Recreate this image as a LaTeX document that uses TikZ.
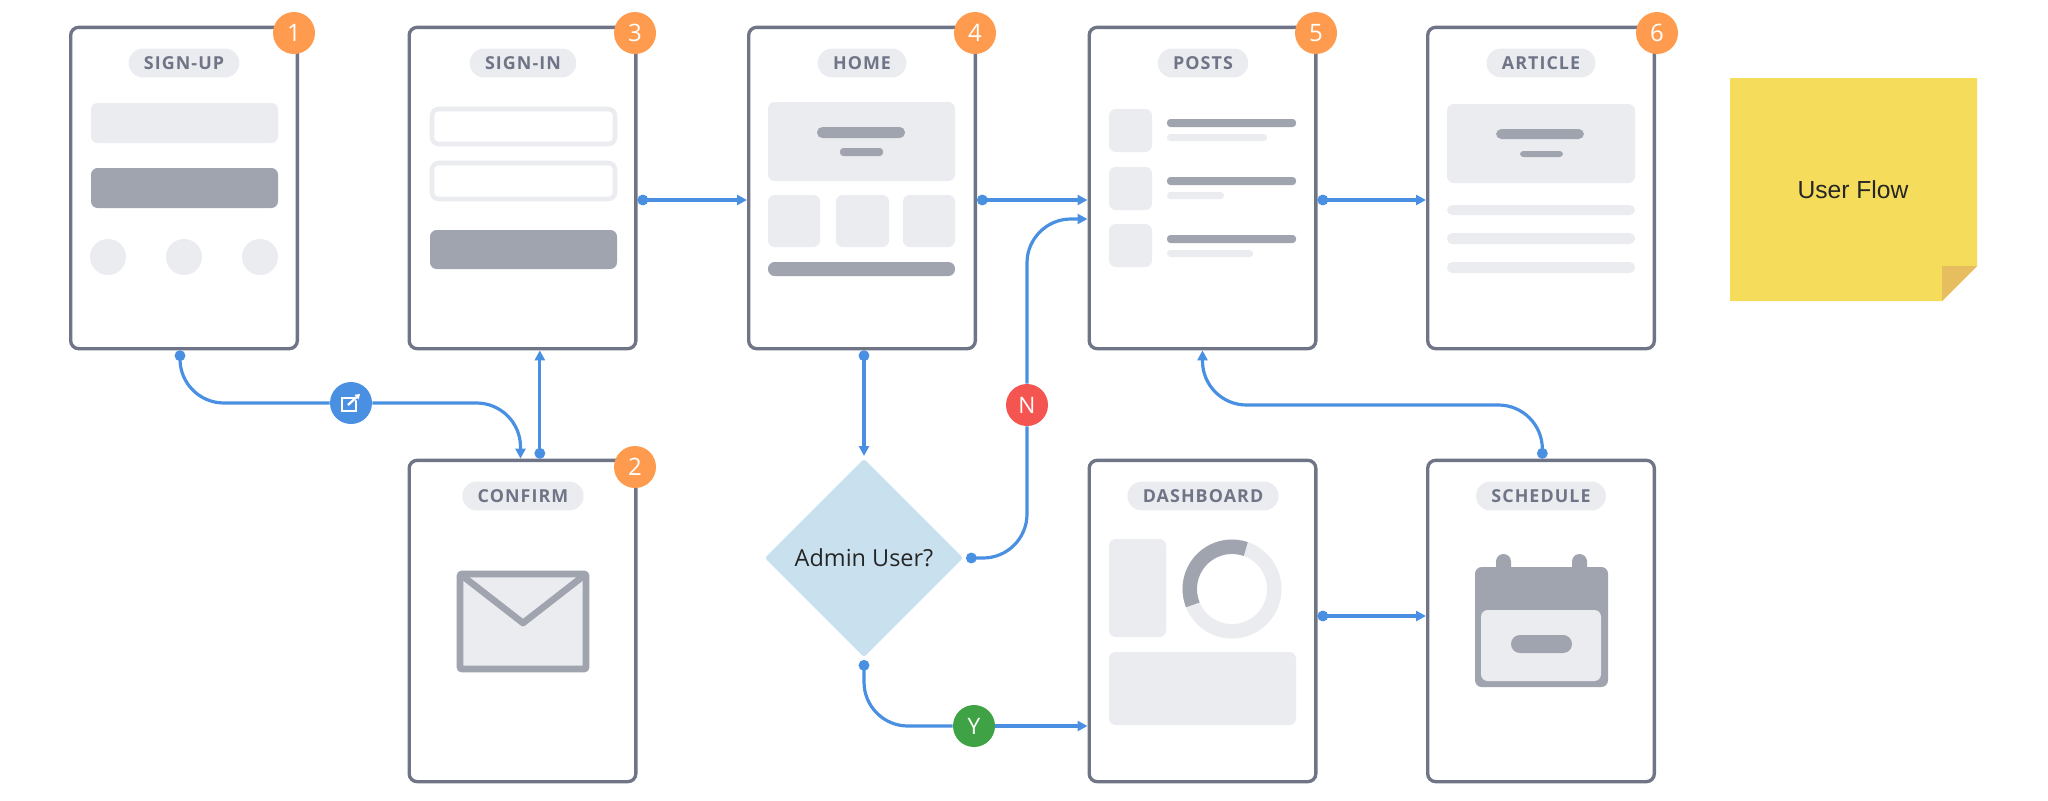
\documentclass[tikz,border=0pt]{standalone}
\usepackage{fontspec}
\usepackage{tikz}
\usetikzlibrary{positioning,arrows.meta,shapes.geometric}
\setmainfont{Open Sans}
\newfontfamily\cardfont[LetterSpace=6]{Open Sans}
\newfontfamily\notefont{Liberation Sans}
\definecolor{framegrey}{HTML}{6F7486}
\definecolor{lightgrey}{HTML}{EBECF0}
\definecolor{midgrey}{HTML}{A0A4AF}
\definecolor{flowblue}{HTML}{4A90E2}
\definecolor{numorange}{HTML}{FF9B4E}
\definecolor{noflag}{HTML}{F55550}
\definecolor{yesflag}{HTML}{3FA346}
\definecolor{askblue}{HTML}{C9E1EE}
\definecolor{noteyellow}{HTML}{F5DC5A}
\definecolor{notefold}{HTML}{E6BE5F}
\tikzset{
  cardbox/.style={draw=framegrey, fill=white, line width=2.5pt, rounded corners=6pt,
    minimum width=170pt, minimum height=241pt, inner sep=0},
  cardtag/.style={fill=lightgrey, rounded corners=10.8pt, minimum height=21.6pt, inner ysep=0, inner xsep=11.5pt,
    text=framegrey, font=\cardfont\bfseries\fontsize{13.4}{14}\selectfont},
  numdot/.style={circle, fill=numorange, minimum size=31.5pt, inner sep=0, text=white,
    font=\fontsize{18}{18}\selectfont},
  flagdot/.style={circle, minimum size=31.5pt, inner sep=0, text=white,
    font=\fontsize{17}{17}\selectfont},
  askbox/.style={diamond, fill=askblue, minimum width=150pt, minimum height=150pt, inner sep=0,
    outer sep=1.5pt, rounded corners=2pt, font=\fontsize{17.6}{19}\selectfont, text=black!85},
  lightbar/.style={fill=lightgrey, rounded corners=5pt},
  darkbar/.style={fill=midgrey, rounded corners=5pt},
  thinlight/.style={fill=lightgrey, rounded corners=2.5pt},
  thindark/.style={fill=midgrey, rounded corners=2.5pt},
  flowto/.style={draw=flowblue, line width=2.4pt, -{Triangle[length=7.5pt,width=7.5pt]}},
  flowdot/.style={draw=flowblue, line width=2.4pt, {Circle[length=8pt,width=8pt]}-{Triangle[length=7.5pt,width=7.5pt]}},
  flowstart/.style={draw=flowblue, line width=2.4pt, {Circle[length=8pt,width=8pt]}-},
  bent/.style={rounded corners=33pt}
}
\begin{document}
\begin{tikzpicture}[x=0.75pt, y=-0.75pt]
  \useasboundingbox (0,0) rectangle (2048,800);

  \node[cardbox] (signup) at (184,188) {};
  \node[cardbox] (signin) at (522.5,188) {};
  \node[cardbox] (home) at (862,188) {};
  \node[cardbox] (posts) at (1202.5,188) {};
  \node[cardbox] (article) at (1541,188) {};
  \node[cardbox] (confirm) at (522.5,621) {};
  \node[cardbox] (dashboard) at (1202.5,621) {};
  \node[cardbox] (schedule) at (1541,621) {};

  \node[cardtag] (signuptag) at (184,63) {SIGN-UP};
  \node[cardtag] (signintag) at (523,63) {SIGN-IN};
  \node[cardtag] (hometag) at (862,63) {HOME};
  \node[cardtag] (poststag) at (1203,63) {POSTS};
  \node[cardtag] (articletag) at (1541,63) {ARTICLE};
  \node[cardtag] (confirmtag) at (523,496) {CONFIRM};
  \node[cardtag] (dashboardtag) at (1203,496) {DASHBOARD};
  \node[cardtag] (scheduletag) at (1541,496) {SCHEDULE};

  \node[numdot] (numa) at (294,33) {1};
  \node[numdot] (numb) at (635,467) {2};
  \node[numdot] (numc) at (635,33) {3};
  \node[numdot] (numd) at (975,33) {4};
  \node[numdot] (nume) at (1316,33) {5};
  \node[numdot] (numf) at (1657,33) {6};

  \fill[lightbar] (91,103) rectangle (278,143);
  \fill[darkbar] (91,168) rectangle (278,208);
  \fill[lightgrey] (108,257) circle (18) (184,257) circle (18) (260,257) circle (18);

  \draw[draw=lightgrey, line width=3.4pt, rounded corners=5pt] (432,109) rectangle (615,144);
  \draw[draw=lightgrey, line width=3.4pt, rounded corners=5pt] (432,163) rectangle (615,199);
  \fill[darkbar] (430,230) rectangle (617,269);

  \fill[lightbar] (768,102) rectangle (955,181);
  \fill[thindark, rounded corners=4pt] (817,127) rectangle (905,138);
  \fill[thindark] (840,148) rectangle (883,156);
  \fill[lightbar] (768,195) rectangle (820,247);
  \fill[lightbar] (836,195) rectangle (889,247);
  \fill[lightbar] (903,195) rectangle (955,247);
  \fill[darkbar] (768,262) rectangle (955,276);

  \foreach \ytop/\ybar/\ysub/\xsub in {109/119/134/1267, 167/177/192/1224, 224/235/250/1253} {
    \fill[lightbar] (1109,\ytop) rectangle (1152,\ytop+43);
    \fill[thindark] (1167,\ybar) rectangle (1296,\ybar+8);
    \fill[thinlight] (1167,\ysub) rectangle (\xsub,\ysub+7);
  }

  \fill[lightbar] (1447,104) rectangle (1635,183);
  \fill[thindark, rounded corners=4pt] (1496,129) rectangle (1584,139);
  \fill[thindark] (1520,151) rectangle (1563,157);
  \fill[thinlight, rounded corners=4pt] (1447,205) rectangle (1635,215);
  \fill[thinlight, rounded corners=4pt] (1447,233) rectangle (1635,244);
  \fill[thinlight, rounded corners=4pt] (1447,262) rectangle (1635,273);

  \draw[draw=midgrey, fill=lightgrey, line width=5pt, rounded corners=1.5pt] (460,574) rectangle (586,669);
  \draw[draw=midgrey, line width=5pt, line join=round] (460,574) -- (523,623) -- (586,574);

  \fill[lightbar] (1109,539) rectangle (1166,637);
  \fill[lightbar] (1109,652) rectangle (1296,725);
  \draw[draw=lightgrey, line width=10.8pt] (1232,589) circle (42.3);
  \draw[draw=midgrey, line width=10.8pt] (1232,589) ++(71:31.7pt) arc[start angle=71, end angle=202, radius=31.7pt];

  \fill[midgrey, rounded corners=5.6pt] (1496,575) -- (1496,554) -- (1511,554) -- (1511,575) -- cycle;
  \fill[midgrey, rounded corners=5.6pt] (1572,575) -- (1572,554) -- (1587,554) -- (1587,575) -- cycle;
  \fill[darkbar] (1475,567) rectangle (1608,687);
  \fill[lightbar] (1481,610) rectangle (1601,681);
  \fill[midgrey, rounded corners=6.7pt] (1511,635) rectangle (1572,653);

  \fill[noteyellow] (1730,78) -- (1977,78) -- (1977,266) -- (1942,301) -- (1730,301) -- cycle;
  \fill[notefold] (1942,266) -- (1977,266) -- (1942,301) -- cycle;
  \node[font=\notefont\fontsize{18.5}{20}\selectfont, text=black!85] (notetext) at (1853,190) {User Flow};

  \node[askbox] (admin) at (864,558) {Admin User?};
  \node[flagdot, fill=flowblue] (linkflag) at (351,403) {};
  \node[flagdot, fill=noflag] (noflagnode) at (1027,405) {N};
  \node[flagdot, fill=yesflag] (yesflagnode) at (974,726) {Y};
  \coordinate (backmid) at (1370,405);

  \draw[white, line width=1.7pt, line cap=round] (355,398) -- (342,398) -- (342,411) -- (356,411) -- (356,401);
  \draw[white, line width=1.7pt, -{Triangle[length=3.5pt,width=4.5pt]}] (348,405) -- (360,394);

  \draw[flowstart, bent] ([xshift=-3pt]signup.south) |- (linkflag.west);
  \draw[flowto, bent] (linkflag.east) -| ([xshift=-1.5pt]confirm.north);
  \draw[flowdot] ([xshift=13pt]confirm.north) -- ([xshift=13pt]signin.south);
  \draw[flowdot] ([yshift=-9pt]signin.east) -- ([yshift=-9pt]home.west);
  \draw[flowdot] ([yshift=-9pt]home.east) -- ([yshift=-9pt]posts.west);
  \draw[flowdot] ([yshift=-9pt]posts.east) -- ([yshift=-9pt]article.west);
  \draw[flowdot] (admin.north |- home.south) -- (admin.north);
  \draw[flowstart, bent] (admin.east) -| (noflagnode.south);
  \draw[flowto, bent] (noflagnode.north) |- ([yshift=-23.25pt]posts.west);
  \draw[flowstart, bent] (admin.south) |- (yesflagnode.west);
  \draw[flowto] (yesflagnode.east) -- (yesflagnode.east -| dashboard.west);
  \draw[flowdot] ([yshift=3.75pt]dashboard.east) -- ([yshift=3.75pt]schedule.west);
  \draw[flowdot, bent] ([xshift=1pt]schedule.north) |- (backmid) -| (posts.south);
\end{tikzpicture}
\end{document}
